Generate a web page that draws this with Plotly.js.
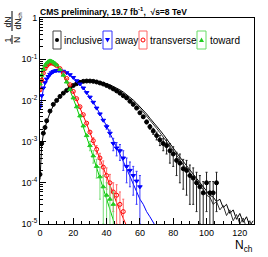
<!DOCTYPE html>
<html><head><meta charset="utf-8">
<script src="https://cdn.plot.ly/plotly-3.0.1.min.js"></script>
<style>body{margin:0;background:#fff}#chart{width:268px;height:257px}</style>
</head><body><div id="chart"></div>
<script>
// ---- data ----
const incN = [0,1,2,3,4,6,8,10,12,14,16,18,20,22,24,26,28,30,32,34,36,38,40,42,44,46,48,50,52,54,56,58,60,62,64,66,68,70,72,74,76,78,80,82,84,86,88,90,92,94,96,98,100,102,104,106];
const incV = [1.6e-4,9e-4,1.6e-3,2.2e-3,3.2e-3,5.5e-3,8e-3,1e-2,1.25e-2,1.5e-2,1.75e-2,2e-2,2.3e-2,2.55e-2,2.75e-2,2.9e-2,2.95e-2,2.95e-2,2.9e-2,2.8e-2,2.65e-2,2.5e-2,2.3e-2,2.1e-2,1.9e-2,1.7e-2,1.5e-2,1.3e-2,1.15e-2,9.5e-3,8e-3,6.5e-3,5e-3,4e-3,3e-3,2.3e-3,1.8e-3,1.4e-3,1.1e-3,9e-4,8e-4,6e-4,5e-4,3.5e-4,3e-4,2.2e-4,2e-4,1.5e-4,1.3e-4,1e-4,8e-5,5.7e-5,1e-4,5.7e-5,5.7e-5,1e-4];
const incE = [0,0,0,0,0,0,0,0,0,0,0,0,0,0,0,0,0,0,0,0,0,0,0,0,0,0,0,0,0,0,0,0,3e-4,3e-4,3e-4,3e-4,3e-4,3e-4,3e-4,3e-4,3e-4,3e-4,2.5e-4,2e-4,2e-4,1.5e-4,1.5e-4,1.2e-4,1e-4,8e-5,7e-5,5e-5,8e-5,5e-5,5e-5,8e-5];

const awN = [0,1,2,3,4,5,6,7,8,9,10,11,12,14,16,18,20,22,24,26,28,30,32,34,36,38,40,42,44,46,48,50,52,54,56,58,60];
const awV = [7e-3,1.3e-2,2e-2,2.7e-2,3.3e-2,3.8e-2,4.3e-2,4.7e-2,5e-2,5.2e-2,5.3e-2,5.35e-2,5.3e-2,5.1e-2,4.7e-2,4.2e-2,3.6e-2,3e-2,2.5e-2,2e-2,1.55e-2,1.2e-2,9e-3,6.5e-3,4.7e-3,3.3e-3,2.3e-3,1.6e-3,9e-4,7e-4,6e-4,4e-4,2.5e-4,2e-4,1.5e-4,1.1e-4,8e-5];
const awE = [0,0,0,0,0,0,0,0,0,0,0,0,0,0,0,0,0,0,0,0,0,0,0,0,0,0,3e-4,3e-4,3e-4,2.5e-4,2.5e-4,2e-4,1.5e-4,1.2e-4,1e-4,8e-5,7e-5];

const trN = [0,1,2,3,4,5,6,7,8,9,10,12,14,16,18,20,22,24,26,28,30,32,34,36,38,40,42,44,46,48,50];
const trV = [1.8e-2,3.1e-2,4.6e-2,5.9e-2,6.9e-2,7.6e-2,8e-2,8.1e-2,7.9e-2,7.5e-2,7e-2,5.9e-2,4.6e-2,3.4e-2,2.4e-2,1.65e-2,1.1e-2,7e-3,4.5e-3,2.8e-3,1.7e-3,1.05e-3,6.5e-4,4e-4,2.4e-4,1.5e-4,1e-4,6e-5,5e-5,3e-5,2e-5];
const trE = [0,0,0,0,0,0,0,0,0,0,0,0,0,0,0,0,0,0,0,0,0,2e-4,1.5e-4,1.2e-4,1e-4,8e-5,6e-5,4e-5,4e-5,3e-5,2e-5];

const toN = [0,1,2,3,4,5,6,7,8,9,10,12,14,16,18,20,22,24,26,28,30,32,34,36,38,40,42,44];
const toV = [2.5e-2,4.1e-2,5.7e-2,7.1e-2,8.1e-2,8.8e-2,9.1e-2,8.9e-2,8.5e-2,7.9e-2,7.2e-2,5.6e-2,4.1e-2,2.8e-2,1.85e-2,1.15e-2,7e-3,4.2e-3,2.4e-3,1.4e-3,8e-4,4.5e-4,2.5e-4,1.4e-4,8e-5,5e-5,4e-5,3e-5];
const toE = [0,0,0,0,0,0,0,0,0,0,0,0,0,0,0,0,0,0,0,0,2e-4,1.5e-4,1.2e-4,1e-4,7e-5,5e-5,4e-5,3e-5];

// model curves
const incLN = [0,1,2,4,6,8,10,12,14,16,18,20,22,24,26,28,30,32,34,36,38,40,42,44,46,48,50,52,54,56,58,60,62,64,66,68,70,72,74,76,78,80,82,84,86,88,90,92,94,96,98,100,102,104,106,108,110,112,114,116,118,120,122,124,126,128];
const incLA = [1.2e-4,8e-4,1.5e-3,3e-3,5e-3,7.5e-3,1e-2,1.25e-2,1.5e-2,1.75e-2,2.05e-2,2.3e-2,2.55e-2,2.75e-2,2.9e-2,3e-2,3.05e-2,3e-2,2.95e-2,2.85e-2,2.7e-2,2.55e-2,2.4e-2,2.2e-2,2e-2,1.8e-2,1.6e-2,1.4e-2,1.2e-2,1.02e-2,8.5e-3,7e-3,5.8e-3,4.7e-3,3.7e-3,3e-3,2.4e-3,1.9e-3,1.5e-3,1.15e-3,9e-4,7e-4,5.5e-4,4.2e-4,3.3e-4,2.6e-4,2e-4,1.6e-4,1.25e-4,1e-4,8e-5,6.5e-5,5e-5,4.5e-5,3.5e-5,4e-5,2.5e-5,3e-5,1.8e-5,2.2e-5,1.3e-5,1.8e-5,1.1e-5,1.5e-5,9e-6,1.2e-5];
const incLBN = [40,42,44,46,48,50,52,54,56,58,60,62,64,66,68,70,72,74,76,78,80,82,84,86,88,90,92,94,96,98,100,102,104,106,108,110,112,114,116,118,120,122,124,126,128];
const incLB = [2.45e-2,2.3e-2,2.1e-2,1.9e-2,1.7e-2,1.5e-2,1.3e-2,1.1e-2,9.3e-3,7.8e-3,6.4e-3,5.2e-3,4.2e-3,3.3e-3,2.6e-3,2.1e-3,1.65e-3,1.3e-3,1e-3,7.8e-4,6e-4,4.7e-4,3.6e-4,2.8e-4,2.2e-4,1.7e-4,1.3e-4,1.1e-4,8e-5,7e-5,5e-5,4.5e-5,3e-5,3.5e-5,2.2e-5,2.8e-5,1.6e-5,2.2e-5,1.2e-5,1.7e-5,1e-5,1.4e-5,8e-6,1.2e-5,7e-6];

const awLN = [0,1,2,4,6,8,10,12,14,16,18,20,22,24,26,28,30,32,34,36,38,40,42,44,46,48,50,52,54,56,58,60,62,64,66,68,70];
const awL = [6e-3,1.2e-2,1.9e-2,3.2e-2,4.3e-2,5e-2,5.3e-2,5.3e-2,5.1e-2,4.7e-2,4.2e-2,3.6e-2,3e-2,2.5e-2,2e-2,1.55e-2,1.2e-2,9e-3,6.6e-3,4.8e-3,3.4e-3,2.4e-3,1.6e-3,1.1e-3,7.5e-4,5e-4,3.3e-4,2.2e-4,1.4e-4,9e-5,6e-5,4e-5,3e-5,2e-5,1.5e-5,1.1e-5,8e-6];

const trLN = [0,1,2,3,4,5,6,7,8,10,12,14,16,18,20,22,24,26,28,30,32,34,36,38,40,42,44,46,48,50,52];
const trL = [1.6e-2,3e-2,4.5e-2,5.8e-2,6.8e-2,7.5e-2,7.9e-2,8e-2,7.8e-2,7e-2,5.8e-2,4.5e-2,3.3e-2,2.3e-2,1.6e-2,1.05e-2,6.8e-3,4.3e-3,2.7e-3,1.65e-3,1e-3,6e-4,3.6e-4,2.2e-4,1.35e-4,8.5e-5,5.2e-5,3.3e-5,2.1e-5,1.4e-5,9e-6];

const toLN = [0,1,2,3,4,5,6,7,8,10,12,14,16,18,20,22,24,26,28,30,32,34,36,38,40,42,44,46];
const toL = [2.3e-2,4e-2,5.6e-2,7e-2,8e-2,8.7e-2,9e-2,8.8e-2,8.4e-2,7.1e-2,5.5e-2,4e-2,2.75e-2,1.8e-2,1.1e-2,6.7e-3,4e-3,2.3e-3,1.3e-3,7.5e-4,4.2e-4,2.3e-4,1.3e-4,7e-5,4e-5,2.2e-5,1.2e-5,7e-6];

const legendLabels = ['inclusive','away','transverse','toward'];
const yTickVals = [1e-5,1e-4,1e-3,1e-2,1e-1,1];
const yTickText = ['10<sup>-5</sup>','10<sup>-4</sup>','10<sup>-3</sup>','10<sup>-2</sup>','10<sup>-1</sup>','1'];

// ---- drawing ----
const FONT = 'Liberation Sans, Arial, Helvetica, sans-serif';
const L = 40, R = 254, T = 18, B = 224;
const px = x => (x - L) / (R - L);
const py = y => (B - y) / (B - T);

function line(x, y, color) {
  return {x, y, type: 'scatter', mode: 'lines', line: {color, width: 1}, hoverinfo: 'skip', showlegend: false, cliponaxis: true};
}
function pts(x, y, e, color, ecolor, symbol, size) {
  return {x, y, type: 'scatter', mode: 'markers', showlegend: false,
    marker: {color, symbol, size, line: {color, width: 1}},
    error_y: {type: 'data', array: e, visible: true, color: ecolor, thickness: 1, width: 1}};
}

const traces = [
  line(incLN, incLA, '#000'),
  line(incLBN, incLB, '#333'),
  line(awLN, awL, '#0000ff'),
  line(trLN, trL, '#ff0000'),
  line(toLN, toL, '#00cc00'),
  pts(incN, incV, incE, '#000', '#222', 'circle', 4),
  pts(awN, awV, awE, '#0000ff', '#3a3aff', 'triangle-down', 4),
  pts(trN, trV, trE, '#ff0000', '#ff6666', 'circle-open', 4),
  pts(toN, toV, toE, '#22cc22', '#77dd77', 'triangle-up', 4)
];

const minorY = [];
for (let d = -5; d < 0; d++) for (let m = 2; m <= 9; m++) minorY.push(m * Math.pow(10, d));

// legend decoration (boxes, markers, labels)
const boxes = [[53, 61, '#444'], [103, 112, '#3333ff'], [139, 147, '#ff6666'], [197, 206, '#66dd66']];
const mk = [[57, '#000', 'c'], [107.5, '#0000ff', 'v'], [143, '#ff0000', 'o'], [201.5, '#22cc22', '^']];
const shapes = [];
boxes.forEach(b => shapes.push({type: 'rect', xref: 'paper', yref: 'paper', x0: px(b[0]), x1: px(b[1]), y0: py(49), y1: py(31), line: {color: b[2], width: 1}}));
mk.forEach(m => {
  const base = {xref: 'paper', yref: 'paper', xsizemode: 'pixel', ysizemode: 'pixel', xanchor: px(m[0]), yanchor: py(40)};
  if (m[2] === 'c') shapes.push(Object.assign({type: 'circle', x0: -2, x1: 2, y0: -2, y1: 2, fillcolor: m[1], line: {color: m[1], width: 0}}, base));
  if (m[2] === 'o') shapes.push(Object.assign({type: 'circle', x0: -2, x1: 2, y0: -2, y1: 2, line: {color: m[1], width: 1}}, base));
  if (m[2] === 'v') shapes.push(Object.assign({type: 'path', path: 'M-2.5,2 L2.5,2 L0,-2.5 Z', fillcolor: m[1], line: {color: m[1], width: 0}}, base));
  if (m[2] === '^') shapes.push(Object.assign({type: 'path', path: 'M-2.5,-2 L2.5,-2 L0,2.5 Z', fillcolor: m[1], line: {color: m[1], width: 0}}, base));
});
// y-title fraction bars
shapes.push({type: 'line', xref: 'paper', yref: 'paper', x0: px(12), x1: px(12), y0: py(44), y1: py(35), line: {color: '#000', width: 1}});
shapes.push({type: 'line', xref: 'paper', yref: 'paper', x0: px(12), x1: px(12), y0: py(31), y1: py(11), line: {color: '#000', width: 1}});

const legX = [62, 112.5, 148, 208];
const ann = legendLabels.map((t, i) => ({xref: 'paper', yref: 'paper', x: px(legX[i]), y: py(40.5), text: t, showarrow: false, xanchor: 'left', yanchor: 'middle', font: {family: FONT, size: 10, color: '#000'}}));
ann.push({xref: 'paper', yref: 'paper', x: px(38), y: py(11), text: '<b>CMS preliminary, 19.7 fb<sup>-1</sup>,  √s=8 TeV</b>', showarrow: false, xanchor: 'left', yanchor: 'middle', font: {family: FONT, size: 8.5, color: '#000'}});
ann.push({xref: 'paper', yref: 'paper', x: px(255), y: py(246), text: 'N<sub>ch</sub>', showarrow: false, xanchor: 'right', yanchor: 'middle', font: {family: FONT, size: 12, color: '#000'}});
ann.push({xref: 'paper', yref: 'paper', x: px(7.5), y: py(40), text: '1', textangle: -90, showarrow: false, xanchor: 'center', yanchor: 'middle', font: {family: FONT, size: 8.5, color: '#000'}});
ann.push({xref: 'paper', yref: 'paper', x: px(7.5), y: py(22), text: 'dN', textangle: -90, showarrow: false, xanchor: 'center', yanchor: 'middle', font: {family: FONT, size: 8.5, color: '#000'}});
ann.push({xref: 'paper', yref: 'paper', x: px(17), y: py(40), text: 'N', textangle: -90, showarrow: false, xanchor: 'center', yanchor: 'middle', font: {family: FONT, size: 8.5, color: '#000'}});
ann.push({xref: 'paper', yref: 'paper', x: px(17.5), y: py(21), text: 'dN<sub>ch</sub>', textangle: -90, showarrow: false, xanchor: 'center', yanchor: 'middle', font: {family: FONT, size: 8.5, color: '#000'}});

const layout = {
  width: 268, height: 257,
  margin: {l: L, r: 268 - R, t: T, b: 257 - B, pad: 0},
  paper_bgcolor: '#fff', plot_bgcolor: '#fff',
  showlegend: false,
  font: {family: FONT, size: 9, color: '#000'},
  xaxis: {range: [0, 128.5], tick0: 0, dtick: 20, ticks: 'inside', ticklen: 6, tickcolor: '#000', tickwidth: 1,
    minor: {ticks: 'inside', ticklen: 3, dtick: 5, tickcolor: '#000'},
    showline: true, mirror: true, linecolor: '#000', linewidth: 1, showgrid: false, zeroline: false,
    tickfont: {family: FONT, size: 9, color: '#000'}},
  yaxis: {type: 'log', range: [-5, 0], tickmode: 'array', tickvals: yTickVals, ticktext: yTickText,
    ticks: 'inside', ticklen: 6, tickcolor: '#000', tickwidth: 1,
    minor: {ticks: 'inside', ticklen: 3, tickmode: 'array', tickvals: minorY, tickcolor: '#000'},
    showline: true, mirror: true, linecolor: '#000', linewidth: 1, showgrid: false, zeroline: false,
    tickfont: {family: FONT, size: 9, color: '#000'}},
  shapes, annotations: ann
};
Plotly.newPlot('chart', traces, layout, {staticPlot: true, displayModeBar: false});
</script></body></html>
